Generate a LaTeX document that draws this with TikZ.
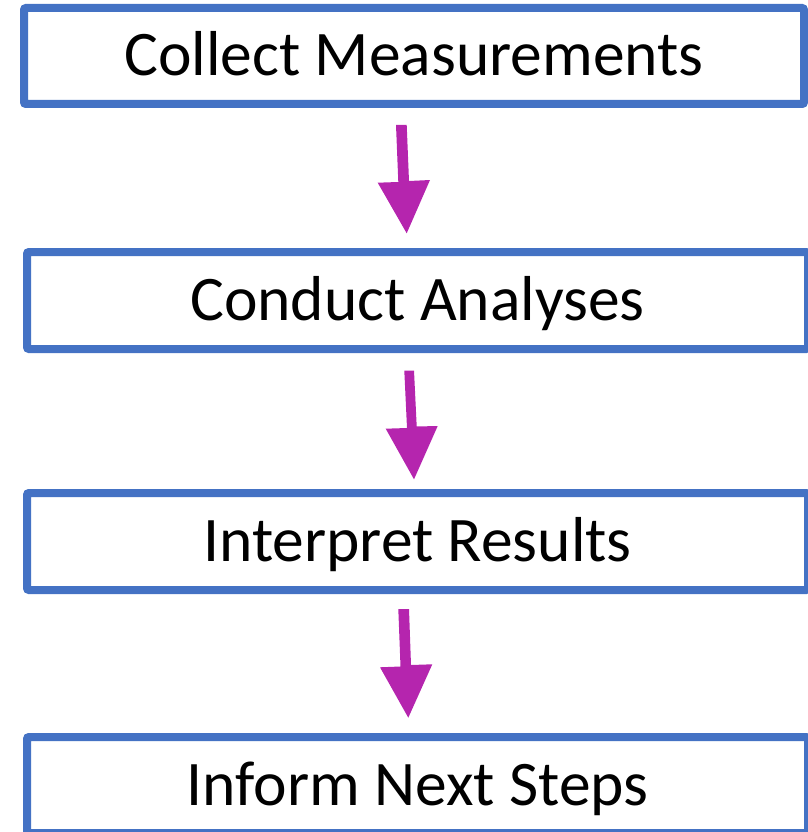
\documentclass[tikz,border=0pt]{standalone}
\usepackage{fontspec}
\setmainfont{Carlito}
\definecolor{boxblue}{HTML}{4472C4}
\definecolor{arrmag}{HTML}{B525AE}
\begin{document}
\begin{tikzpicture}[x=1pt,y=-1pt,
  stepbox/.style={draw=boxblue,line width=8pt,rounded corners=2pt,fill=white,
    inner sep=0pt,text height=40pt,text depth=0pt,align=center,
    font=\fontsize{63.5}{70}\selectfont},
  blockarrow/.style={fill=arrmag,draw=none}]
\useasboundingbox (0,0) rectangle (807,832);
\node[stepbox,minimum width=780pt,minimum height=96pt] (b1) at (414,56) {Collect Measurements};
\node[stepbox,minimum width=781pt,minimum height=97pt] (b2) at (417.5,300.5) {Conduct Analyses};
\node[stepbox,minimum width=781pt,minimum height=97pt] (b3) at (417.5,541.5) {Interpret Results};
\node[stepbox,minimum width=781pt,minimum height=96pt] (b4) at (417.5,785) {Inform Next Steps};
\fill[blockarrow] (396,125) -- (406.7,125) -- (409,181) -- (430,180) -- (406.7,233.3) -- (377.7,182.7) -- (398.3,182) -- cycle;
\fill[blockarrow] (404.3,370.7) -- (414,370.7) -- (416.7,426.5) -- (437.7,426) -- (414,479.3) -- (385.7,428.7) -- (407,428) -- cycle;
\fill[blockarrow] (398.3,609) -- (409,609) -- (411,665) -- (432.3,664.3) -- (408.3,717.7) -- (380,667.3) -- (400.5,666.5) -- cycle;
\end{tikzpicture}
\end{document}
